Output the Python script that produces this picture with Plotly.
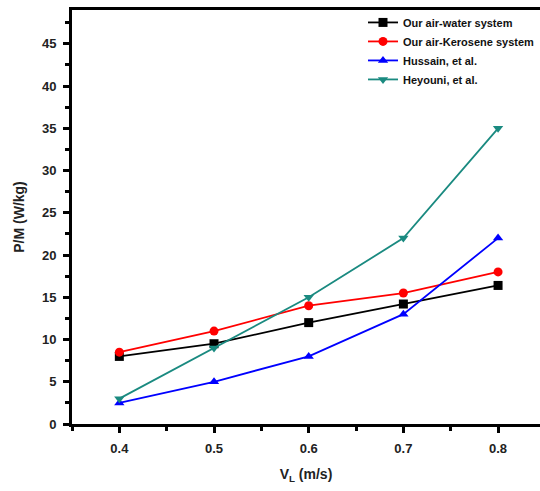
import plotly.graph_objects as go

vl = [0.4, 0.5, 0.6, 0.7, 0.8]
air_water = [8.0, 9.5, 12.0, 14.2, 16.4]
air_kerosene = [8.5, 11.0, 14.0, 15.5, 18.0]
hussain = [2.5, 5.0, 8.0, 13.0, 22.0]
heyouni = [3.0, 9.0, 15.0, 22.0, 35.0]

series = [
    ("Our air-water system", air_water, "black", "square"),
    ("Our air-Kerosene system", air_kerosene, "red", "circle"),
    ("Hussain, et al.", hussain, "blue", "triangle-up"),
    ("Heyouni, et al.", heyouni, "#1a8a80", "triangle-down"),
]

fig = go.Figure()
for name, ys, col, sym in series:
    fig.add_trace(go.Scatter(
        x=vl, y=ys, name=name, mode="lines+markers",
        line=dict(color=col, width=1.8),
        marker=dict(symbol=sym, size=9, color=col),
    ))

FF = "Liberation Sans, Arial, sans-serif"

fig.update_layout(
    width=540, height=491,
    margin=dict(l=72, r=0, t=10, b=67),
    paper_bgcolor="white", plot_bgcolor="white",
    font=dict(family=FF, color="#222", size=12),
    showlegend=True,
    legend=dict(
        x=1.0, y=1.005, xanchor="right", yanchor="top",
        bgcolor="rgba(0,0,0,0)", borderwidth=0,
        font=dict(family=FF, size=11, color="#111", weight="bold"),
        tracegroupgap=0, itemwidth=30,
    ),
)

fig.update_xaxes(
    automargin=False,
    range=[0.35, 0.8443],
    tickvals=[0.4, 0.5, 0.6, 0.7, 0.8],
    ticktext=["0.4", "0.5", "0.6", "0.7", "0.8"],
    ticks="outside", ticklen=6, tickwidth=2.5, tickcolor="black",
    ticklabelstandoff=4,
    minor=dict(tickvals=[0.35, 0.45, 0.55, 0.65, 0.75, 0.85], ticks="outside", ticklen=4, tickwidth=2.5, tickcolor="black"),
    showline=True, linewidth=3, linecolor="black", mirror=True,
    showgrid=False, zeroline=False,
    tickfont=dict(size=13, weight="bold", color="#222"),
    title=dict(text="V<sub>L</sub> (m/s)", font=dict(size=14, weight="bold", color="#222")),
)
fig.update_yaxes(
    automargin=False,
    range=[0, 49],
    tickvals=[0, 5, 10, 15, 20, 25, 30, 35, 40, 45],
    ticks="outside", ticklen=6, tickwidth=2.5, tickcolor="black",
    ticklabelstandoff=4,
    minor=dict(tickvals=[2.5, 7.5, 12.5, 17.5, 22.5, 27.5, 32.5, 37.5, 42.5, 47.5], ticks="outside", ticklen=4, tickwidth=2.5, tickcolor="black"),
    showline=True, linewidth=3, linecolor="black", mirror=False,
    showgrid=False, zeroline=False,
    tickfont=dict(size=13, weight="bold", color="#222"),
    title=dict(text="P/M (W/kg)", font=dict(size=14, weight="bold", color="#222")),
)

fig.write_html(
    "out.html",
    config={"displayModeBar": False},
    post_script="document.body.style.margin='0';document.body.style.overflow='hidden';",
)
